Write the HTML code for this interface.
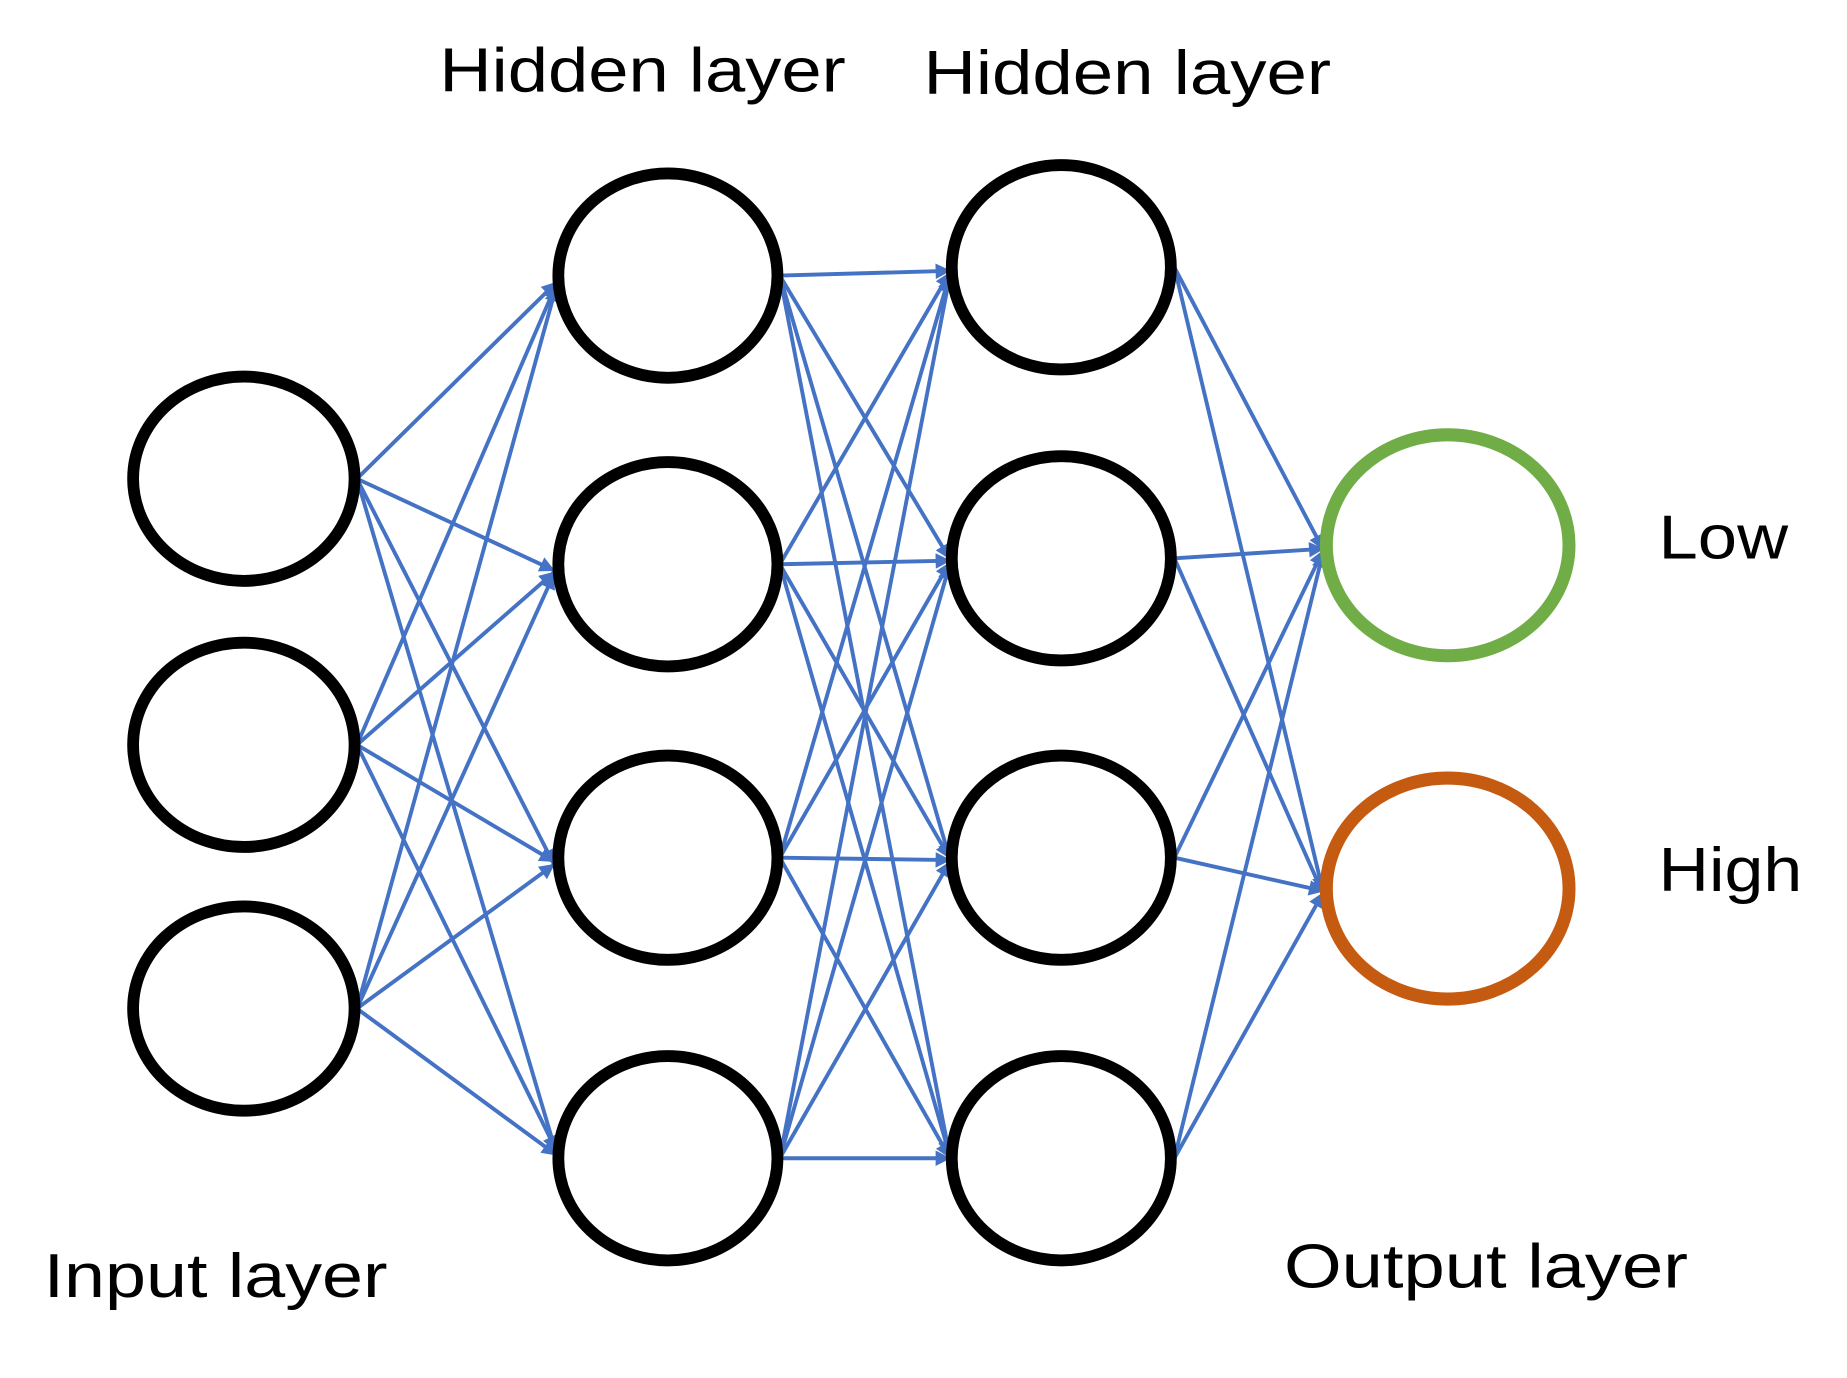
<!DOCTYPE html>
<html><head><style>html,body{margin:0;padding:0;background:#fff;}svg{display:block}</style></head>
<body>
<svg width="1847" height="1378" viewBox="0 0 1568 1160" preserveAspectRatio="none" xmlns="http://www.w3.org/2000/svg">
<defs>
<marker id="a" viewBox="0 0 10 10" refX="9" refY="5" markerWidth="16" markerHeight="13" orient="auto" markerUnits="userSpaceOnUse"><path d="M0,0 L10,5 L0,10 z" fill="#4472c4"/></marker>
</defs>
<g stroke="#4472c4" stroke-width="3.3" fill="none" marker-end="url(#a)">
<line x1="303" y1="403" x2="472" y2="238"/><line x1="303" y1="403" x2="470" y2="480"/><line x1="303" y1="403" x2="470" y2="727"/><line x1="303" y1="403" x2="472" y2="970"/>
<line x1="303" y1="627" x2="472" y2="240"/><line x1="303" y1="627" x2="470" y2="482"/><line x1="303" y1="627" x2="470" y2="725"/><line x1="303" y1="627" x2="472" y2="968"/>
<line x1="303" y1="849" x2="472" y2="242"/><line x1="303" y1="849" x2="470" y2="484"/><line x1="303" y1="849" x2="470" y2="728"/><line x1="303" y1="849" x2="472" y2="972"/>
<line x1="662" y1="232" x2="806" y2="228"/><line x1="662" y1="232" x2="806" y2="470"/><line x1="662" y1="232" x2="806" y2="722"/><line x1="662" y1="232" x2="806" y2="972"/>
<line x1="662" y1="475" x2="806" y2="230"/><line x1="662" y1="475" x2="806" y2="472"/><line x1="662" y1="475" x2="806" y2="722"/><line x1="662" y1="475" x2="806" y2="972"/>
<line x1="662" y1="722" x2="806" y2="232"/><line x1="662" y1="722" x2="806" y2="474"/><line x1="662" y1="722" x2="806" y2="724"/><line x1="662" y1="722" x2="806" y2="974"/>
<line x1="662" y1="975" x2="806" y2="234"/><line x1="662" y1="975" x2="806" y2="476"/><line x1="662" y1="975" x2="806" y2="726"/><line x1="662" y1="975" x2="806" y2="975"/>
<line x1="997" y1="225" x2="1123" y2="462"/><line x1="997" y1="225" x2="1123" y2="750"/>
<line x1="997" y1="470" x2="1123" y2="462"/><line x1="997" y1="470" x2="1123" y2="752"/>
<line x1="997" y1="722" x2="1123" y2="464"/><line x1="997" y1="722" x2="1123" y2="750"/>
<line x1="997" y1="975" x2="1123" y2="466"/><line x1="997" y1="975" x2="1123" y2="752"/>
</g>
<g fill="none" stroke="#000" stroke-width="10">
<ellipse cx="207" cy="403" rx="94" ry="86"/><ellipse cx="207" cy="627" rx="94" ry="86"/><ellipse cx="207" cy="849" rx="94" ry="86"/>
<ellipse cx="567" cy="232" rx="93" ry="86"/><ellipse cx="567" cy="475" rx="93" ry="86"/><ellipse cx="567" cy="722" rx="93" ry="86"/><ellipse cx="567" cy="975" rx="93" ry="86"/>
<ellipse cx="901" cy="225" rx="93" ry="86"/><ellipse cx="901" cy="470" rx="93" ry="86"/><ellipse cx="901" cy="722" rx="93" ry="86"/><ellipse cx="901" cy="975" rx="93" ry="86"/>
</g>
<ellipse cx="1229" cy="459" rx="103" ry="93" fill="none" stroke="#70ad47" stroke-width="11"/>
<ellipse cx="1229" cy="748" rx="103" ry="93" fill="none" stroke="#c55a11" stroke-width="11"/>
<g font-family="Liberation Sans, sans-serif" font-size="52" fill="#000">
<text x="373" y="77" textLength="345" lengthAdjust="spacingAndGlyphs">Hidden layer</text>
<text x="784" y="79" textLength="346" lengthAdjust="spacingAndGlyphs">Hidden layer</text>
<text x="1408" y="470" textLength="110" lengthAdjust="spacingAndGlyphs">Low</text>
<text x="1408" y="750" textLength="122" lengthAdjust="spacingAndGlyphs">High</text>
<text x="37" y="1092" textLength="292" lengthAdjust="spacingAndGlyphs">Input layer</text>
<text x="1090" y="1084" textLength="343" lengthAdjust="spacingAndGlyphs">Output layer</text>
</g>
</svg>
</body></html>
